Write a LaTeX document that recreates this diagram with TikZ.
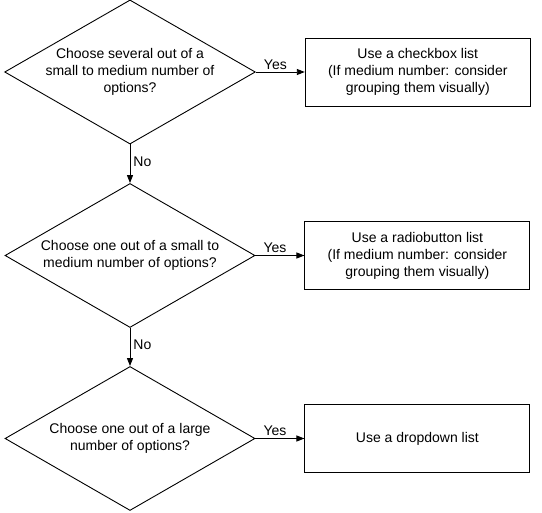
\documentclass[tikz,border=0pt]{standalone}
\usepackage{fontspec}
\setmainfont{Liberation Sans}
\usetikzlibrary{arrows.meta, positioning, shapes.geometric}
\tikzset{->,>={Triangle[length=8pt,width=6pt]},
every node/.style={font=\fontsize{14}{17}\selectfont},
decision/.style={diamond, draw, line width=0.9pt, aspect=1.74, inner sep=0pt, minimum width=250pt, minimum height=144pt, align=center},
action/.style={rectangle, draw, line width=0.9pt, minimum width=225pt, minimum height=68pt, align=center},
yes/.style={above, pos=0.4, inner sep=2pt},
no/.style={right, pos=0.44, inner sep=3pt},
}

\begin{document}
\begin{tikzpicture}[line width=0.9pt]
\useasboundingbox (0,0) rectangle (542pt,-513pt);
    \node[decision] (d1) at (130pt,-72pt) {Choose several out of a\\ small to medium number of\\ options?};
    \node[decision] (d2) at (130pt,-255.5pt) {Choose one out of a small to\\ medium number of options?};
    \node[decision] (d3) at (130pt,-438.5pt) {Choose one out of a large\\ number of options?};
    \node[action, right=49pt of d1] (a1) {Use a checkbox list\\ (If medium number: consider\\ grouping them visually)};
    \node[action, right=49pt of d2] (a2) {Use a radiobutton list\\ (If medium number: consider\\ grouping them visually)};
    \node[action, right=49pt of d3] (a3) {Use a dropdown list};
% yes branches
    \draw (d1) edge node[yes]{Yes} (a1)
    (d2) edge node[yes]{Yes} (a2)
    (d3) edge node[yes]{Yes} (a3)
% no branches
    (d1) edge node[no]{No} (d2)
    (d2) edge node[no]{No} (d3)
    ;
\end{tikzpicture}
\end{document}
